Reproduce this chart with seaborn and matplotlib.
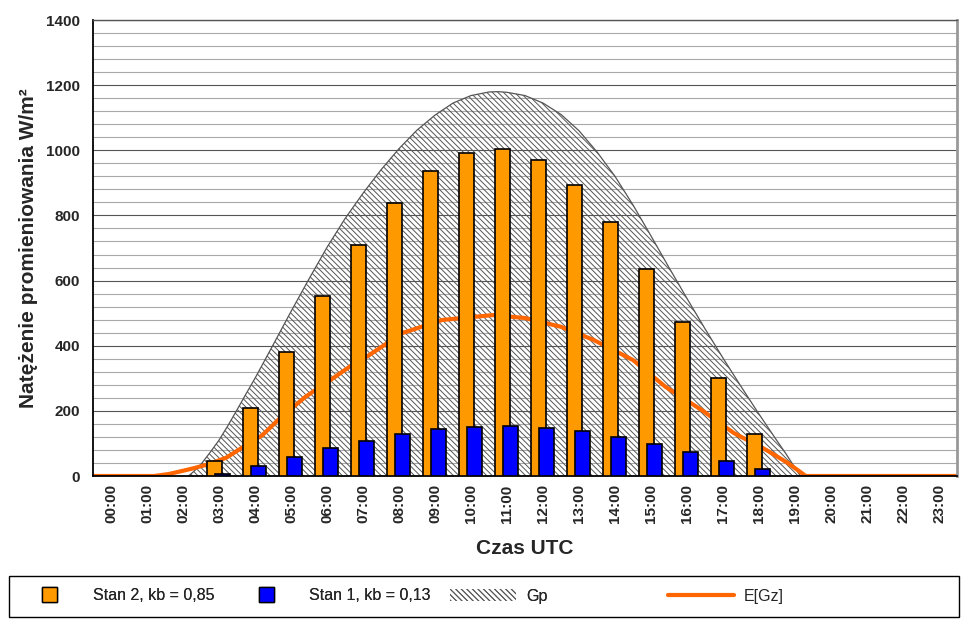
import numpy as np
import seaborn as sns
import matplotlib.pyplot as plt
import matplotlib.patches as mpatches
from matplotlib.lines import Line2D
from matplotlib.legend_handler import HandlerPatch
from matplotlib.ticker import MultipleLocator

# hourly categories
hour_labels = ["00:00", "01:00", "02:00", "03:00", "04:00", "05:00", "06:00", "07:00",
               "08:00", "09:00", "10:00", "11:00", "12:00", "13:00", "14:00", "15:00",
               "16:00", "17:00", "18:00", "19:00", "20:00", "21:00", "22:00", "23:00"]

# bars (hours with non-zero values)
bar_hours = [3, 4, 5, 6, 7, 8, 9, 10, 11, 12, 13, 14, 15, 16, 17, 18]
stan2 = [46, 208, 380, 553, 710, 837, 935, 991, 1003, 969, 893, 779, 635, 473, 300, 128]
stan1 = [5, 30, 57, 85, 108, 128, 143, 150, 153, 147, 138, 119, 97, 73, 46, 21]

# Gp envelope (hour, W/m2)
gp_h = [2.15, 2.3, 2.5, 2.75, 3.0, 3.25, 3.5, 3.75, 4.0, 4.5, 5.0, 5.5, 6.0, 6.5, 7.0,
        7.5, 8.0, 8.5, 9.0, 9.5, 10.0, 10.5, 10.75, 11.0, 11.5, 12.0, 12.5, 13.0,
        13.5, 14.0, 14.5, 15.0, 15.5, 16.0, 16.5, 17.0, 17.5, 18.0, 18.5, 18.75,
        19.0, 19.15]
gp_v = [0, 14, 36, 72, 110, 155, 203, 252, 300, 402, 505, 605, 702, 790, 868,
        940, 1005, 1062, 1108, 1145, 1168, 1179, 1180, 1178, 1168, 1145, 1110, 1060,
        995, 920, 832, 737, 640, 545, 452, 362, 275, 190, 108, 68,
        25, 0]

# E[Gz] line
ez_h = [-0.5, 1.2, 1.6, 2.0, 2.3, 2.7, 3.2, 3.8, 4.2, 4.7, 5.4, 6.1, 6.7, 7.1, 8.1,
        9.2, 10.6, 11.5, 12.5, 13.4, 14.5, 15.4, 16.4, 17.3, 18.2, 18.8, 19.3, 23.5]
ez_v = [0, 0, 6, 16, 24, 36, 56, 98, 125, 178, 243, 295, 341, 366, 439,
        479, 494, 485, 458, 418, 356, 274, 203, 132, 80, 40, 0, 0]

ORANGE = "#FF9900"
BLUE = "#0000FF"
LINE = "#FF6600"
HATCH = "#555555"
HATCH_PAT = "\\\\\\\\\\\\"

sns.set_style("white")
plt.rcParams["font.family"] = ["Liberation Sans", "DejaVu Sans"]
plt.rcParams["hatch.linewidth"] = 0.7
plt.rcParams["hatch.color"] = HATCH

fig = plt.figure(figsize=(9.64, 6.25), dpi=100)
ax = fig.add_axes([93 / 964, 1 - 476 / 625, 864 / 964, 456 / 625])
ax.set_axisbelow(True)

# Gp hatched area
ax.fill_between(gp_h, gp_v, 0, facecolor="none", edgecolor=HATCH, linewidth=0,
                hatch=HATCH_PAT, zorder=1)
sns.lineplot(x=gp_h, y=gp_v, ax=ax, color="#555555", linewidth=0.9, sort=False, zorder=1.5)

# E[Gz]
sns.lineplot(x=ez_h, y=ez_v, ax=ax, color=LINE, linewidth=3, sort=False, zorder=2)

# bars, overlapping pairs
sns.barplot(x=[h - 0.12 for h in bar_hours], y=stan2, ax=ax, native_scale=True,
            width=0.43, color=ORANGE, saturation=1, edgecolor="black", linewidth=1.2,
            errorbar=None, zorder=3)
sns.barplot(x=[h + 0.1 for h in bar_hours], y=stan1, ax=ax, native_scale=True,
            width=0.43, color=BLUE, saturation=1, edgecolor="black", linewidth=1.2,
            errorbar=None, zorder=4)

# axes
ax.set_xlim(-0.5, 23.5)
ax.set_ylim(0, 1400)
ax.set_xticks(range(24))
ax.set_xticklabels(hour_labels, rotation=90, fontsize=11, fontweight="bold")
ax.set_xticks(np.arange(-0.5, 24, 1), minor=True)
ax.tick_params(axis="x", which="major", length=0, pad=6)
ax.tick_params(axis="x", which="minor", length=6, width=1, color="black", direction="out")
ax.yaxis.set_major_locator(MultipleLocator(200))
ax.yaxis.set_minor_locator(MultipleLocator(40))
ax.tick_params(axis="y", which="major", length=6.5, width=1, color="black", pad=3,
               direction="out", labelsize=11)
ax.tick_params(axis="y", which="minor", length=0)
for t in ax.get_yticklabels():
    t.set_fontweight("bold")

ax.grid(False)
ax.yaxis.grid(True, which="major", color="#555555", linewidth=0.8)
ax.yaxis.grid(True, which="minor", color="#a8a8a8", linewidth=0.8)

ax.spines["left"].set_color("black")
ax.spines["left"].set_linewidth(1.3)
ax.spines["bottom"].set_color("black")
ax.spines["bottom"].set_linewidth(1.3)
ax.spines["top"].set_color("#555555")
ax.spines["top"].set_linewidth(1)
ax.spines["right"].set_color("#999999")
ax.spines["right"].set_linewidth(2)

ax.set_xlabel("Czas UTC", fontsize=15, fontweight="bold")
ax.set_ylabel("Natężenie promieniowania W/m²", fontsize=15, fontweight="bold")
ax.xaxis.set_label_coords(0.5, -0.138)
ax.xaxis.label.set_verticalalignment("top")
ax.yaxis.set_label_coords(-0.064, 0.5)


# legend
def square_key(legend, orig_handle, xdescent, ydescent, width, height, fontsize):
    s = 10.8
    return mpatches.Rectangle((width / 2 - s / 2 - xdescent, height / 2 - s / 2 - ydescent), s, s)


sq = HandlerPatch(patch_func=square_key)
h_s2 = mpatches.Patch(facecolor=ORANGE, edgecolor="black", linewidth=1)
h_s1 = mpatches.Patch(facecolor=BLUE, edgecolor="black", linewidth=1)
h_gp = mpatches.Patch(facecolor="none", edgecolor=HATCH, linewidth=0, hatch=HATCH_PAT)
h_ez = Line2D([], [], color=LINE, linewidth=3)

fig.add_artist(mpatches.Rectangle((8.6 / 964, 1 - 617 / 625), 950 / 964, 41 / 625,
                                  transform=fig.transFigure, facecolor="white",
                                  edgecolor="black", linewidth=1))
leg1 = fig.legend([h_s2, h_s1, h_gp], ["Stan 2, kb = 0,85", "Stan 1, kb = 0,13", "Gp"],
                  loc="center left", bbox_to_anchor=(17 / 964, 1 - 596 / 625), ncol=3,
                  frameon=False, fontsize=11.5, handlelength=4.13, handletextpad=0.62,
                  columnspacing=1.2, borderpad=0, borderaxespad=0,
                  handler_map={h_s2: sq, h_s1: sq})
fig.legend([h_ez], ["E[Gz]"], loc="center left", bbox_to_anchor=(668 / 964, 1 - 596 / 625),
           frameon=False, fontsize=11.5, handlelength=4.13, handletextpad=0.62,
           borderpad=0, borderaxespad=0)
fig.add_artist(leg1)

fig.savefig("out.png", dpi=100)
